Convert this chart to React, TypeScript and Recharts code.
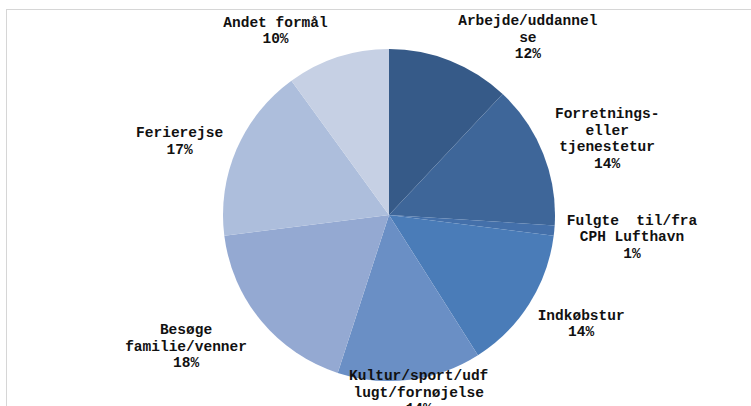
import { PieChart, Pie, Cell } from "recharts";

// categories, as they wrap in the chart
const categories = [
    ["Arbejde/uddannel", "se"],
    ["Forretnings-", "eller", "tjenestetur"],
    ["Fulgte  til/fra", "CPH Lufthavn"],
    ["Indkøbstur"],
    ["Kultur/sport/udf", "lugt/fornøjelse"],
    ["Besøge", "familie/venner"],
    ["Ferierejse"],
    ["Andet formål"],
];
const shares = [12, 14, 1, 14, 14, 18, 17, 10];

const colors = [
    "#365a88",
    "#3e6699",
    "#4470aa",
    "#4a7cb8",
    "#6a8fc5",
    "#94a9d2",
    "#adbedc",
    "#c6d0e4",
];

// where each label sits relative to its slice's mid angle (deg shift, radius)
const labelShift = [-16.5, -2.4, 0.2, 2.8, 2.3, -6.6, 4, 13.7];
const labelRadius = [225, 231, 244, 221, 180, 242, 222, 216];

const data = categories.map((lines, i) => ({
    name: lines.join(" "),
    lines,
    value: shares[i],
}));

const RAD = Math.PI / 180;
const LINE_H = 16.5;

const renderLabel = (props: any) => {
    const { cx, cy, midAngle, index, value } = props;
    const a = (midAngle + labelShift[index]) * RAD;
    const r = labelRadius[index];
    const x = cx + r * Math.cos(a);
    const y = cy - r * Math.sin(a);
    const lines = [...data[index].lines, `${value}%`];
    const top = y - ((lines.length - 1) * LINE_H) / 2;
    return (
        <text
            x={x}
            y={top}
            textAnchor="middle"
            dominantBaseline="central"
            fill="#111"
            style={{ fontFamily: "'Liberation Mono', monospace", fontSize: 14.5, fontWeight: 700 }}
        >
            {lines.map((l, k) => (
                <tspan key={k} x={x} y={top + k * LINE_H} style={{ whiteSpace: "pre" }}>
                    {l}
                </tspan>
            ))}
        </text>
    );
};

const App = () => {
    return (
        <div
            style={{
                position: "absolute",
                left: 6,
                top: 9,
                width: 745,
                height: 397,
                borderTop: "1px solid #d6d6d6",
                borderLeft: "1px solid #d6d6d6",
                background: "#fff",
                overflow: "hidden",
            }}
        >
            <PieChart width={744} height={400}>
                <Pie
                    data={data}
                    dataKey="value"
                    nameKey="name"
                    cx={377}
                    cy={200}
                    outerRadius={166}
                    startAngle={90}
                    endAngle={-270}
                    stroke="none"
                    label={renderLabel}
                    labelLine={false}
                    isAnimationActive={false}
                >
                    {data.map((d, i) => (
                        <Cell key={d.name} fill={colors[i]} />
                    ))}
                </Pie>
            </PieChart>
        </div>
    );
};

export default App;
